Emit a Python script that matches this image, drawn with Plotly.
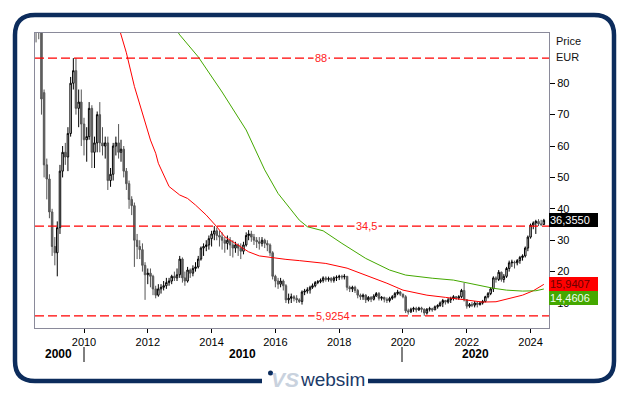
import pandas as pd
import plotly.graph_objects as go

# ---------------- data (monthly candles, Jul 2008 .. Jun 2024) ----------------
opens = [
    104, 100, 98, 77, 54, 49.5,
    39, 28, 26, 34, 52, 58, 56.5, 64, 80, 84, 72, 74,
    67, 62, 63, 72, 58, 61, 70, 61, 60, 61, 49, 51,
    60, 61, 58, 59, 52, 48, 43, 41, 30, 28, 27, 22,
    19, 19.5, 18.5, 14.5, 12.5, 14.5, 15, 15.5, 16.5, 17, 18.5, 18,
    19, 24, 18, 17, 20.5, 19.5, 21, 21.5, 24, 27.5, 28, 28.5,
    30.5, 32, 33, 31.5, 31, 30, 29, 30, 28.5, 27.5, 28.5, 27.5,
    26.5, 28.5, 31.5, 32, 31, 30, 29.5, 29, 30, 29, 28.5, 26,
    18.5, 17, 16, 17, 15.5, 11, 11.5, 12, 11.5, 11, 10.5, 13.5,
    13.8, 14.2, 15, 15.5, 16.5, 16.8, 17.2, 18, 17.5, 17.8, 17.2, 18,
    18.2, 18.5, 18.3, 18.5, 15, 14.5, 15, 14, 12.5, 12, 12.5, 11,
    11.8, 11.2, 12.2, 13, 11.5, 11.8, 11.2, 10.8, 11.5, 12, 13, 13.5,
    12.8, 12, 7.5, 7.2, 8, 8.3, 7.8, 8.4, 8, 6.8, 8, 8.2,
    7.8, 8.8, 9.2, 10, 10.8, 10.3, 11, 11.5, 12, 11.6, 12, 14,
    11, 9, 9.5, 9.3, 10, 9.5, 10, 10.5, 12, 13, 14.5, 18,
    17.5, 19.8, 17.5, 18.5, 21, 22.8, 23, 22.8, 23.5, 24.5, 25, 27.5,
    31, 34.8, 35.5, 36, 35.2, 35,
]
highs = [
    108, 103, 99, 78, 56, 51,
    40, 31, 36, 54, 60, 61, 66, 82, 88, 88, 78, 78,
    69, 66, 74, 73, 63, 71, 74, 66, 63, 63, 53, 61,
    63, 67, 62, 60, 53, 49, 44, 42, 32, 30, 29, 23,
    21, 21, 19, 15.5, 16, 16, 17, 18, 18, 19, 20, 21,
    25, 24.5, 20, 21.5, 21, 22, 23, 25, 28, 29, 30, 31.5,
    33, 34.5, 34, 33, 32.5, 31, 31.5, 31, 30, 29.5, 29, 29,
    29.5, 32.5, 33.2, 33, 32, 31, 31, 31, 30.5, 30, 29, 26.5,
    19, 18, 18, 17.5, 16, 13, 13, 12.5, 12.5, 11.5, 14, 14.5,
    15, 15.5, 16.2, 17, 17.3, 17.8, 18.5, 18.5, 18.4, 18.3, 18.5, 18.8,
    19, 19, 19.2, 18.5, 15.5, 15.5, 15.5, 14.5, 13, 13, 12.8, 12.2,
    12.2, 12.8, 13.5, 13.5, 12.2, 12, 11.8, 12, 12.5, 13.5, 14.2, 13.8,
    13, 12.5, 8.2, 8.5, 8.8, 8.8, 8.8, 8.8, 8.3, 8.4, 8.8, 8.5,
    9.2, 9.6, 10.5, 11.3, 11, 11.6, 12, 12.5, 12.2, 12.5, 14.5, 16.4,
    11.2, 10, 10.3, 10.6, 10.3, 10.5, 11, 12.3, 13.5, 15, 18.5, 18.5,
    20.5, 20, 19.2, 21.5, 23.5, 23.8, 23.5, 24, 25, 25.5, 28, 31.5,
    35.3, 36, 36.5, 36.7, 36.5, 36.8,
]
lows = [
    93, 94, 70, 50, 43, 37,
    25, 22, 18.5, 32, 50, 54, 52, 63, 78, 70, 66, 60,
    57, 55, 62, 53, 53, 58, 58, 57, 56, 46, 47, 49,
    57, 56, 55, 50, 46, 40, 38, 21.5, 24, 24, 20, 11,
    16, 15, 12.5, 11.5, 12, 13, 14, 14.5, 15.5, 16, 17, 17,
    18, 16.5, 15.5, 16.5, 18, 18.5, 20, 21, 23.5, 25, 26.5, 27,
    28, 30, 30, 28, 27, 26, 27, 25, 24.5, 26, 25, 24,
    25.5, 28, 30, 29.5, 28.5, 27.5, 27, 28, 27.5, 26.5, 25, 17.5,
    15, 14.5, 15, 14, 10, 9.8, 10, 10.5, 10, 10, 9.5, 12.5,
    13, 13, 14.5, 15, 16, 16.3, 16.5, 16.8, 16.8, 16.5, 16.5, 17,
    17.3, 17.5, 17.5, 14, 13.5, 13.5, 13.2, 11.5, 11, 11, 10, 10.5,
    10.3, 10.8, 12, 10.8, 10.8, 10.2, 10, 10.2, 11, 11.5, 12.5, 12.2,
    11.5, 6.8, 6.3, 6.8, 7.2, 7, 7.5, 7, 5.9254, 6.3, 7.3, 7.2,
    7.8, 8.2, 8.8, 8.7, 9.5, 9.8, 10, 10.8, 11, 11, 11.5, 10.5,
    8.2, 8.5, 8.7, 8.6, 8.6, 9.2, 9.5, 10.2, 11.5, 12.5, 13.5, 16.5,
    17, 16.8, 16.5, 18, 20, 21.5, 21, 22, 22.5, 23.5, 24.5, 26.5,
    30.5, 33.5, 32, 34.5, 34.5, 35,
]
closes = [
    100, 98, 75, 54, 49.5, 39,
    28, 26, 34, 52, 58, 56.5, 64, 80, 84, 72, 74, 67,
    62, 63, 72, 58, 61, 70, 61, 60, 61, 49, 51, 60,
    61, 58, 59, 52, 48, 43, 41, 30, 28, 27, 22, 19,
    19.5, 18.5, 14.5, 12.5, 14.5, 15, 15.5, 16.5, 17, 18.5, 18, 19,
    24, 18, 17, 20.5, 19.5, 21, 21.5, 24, 27.5, 28, 28.5, 30.5,
    32, 33, 31.5, 31, 30, 29, 30, 28.5, 27.5, 28.5, 27.5, 26.5,
    28.5, 31.5, 32, 31, 30, 29.5, 29, 30, 29, 28.5, 26, 18.5,
    17, 16, 17, 15.5, 11, 11.5, 12, 11.5, 11, 10.5, 13.5, 13.8,
    14.2, 15, 15.5, 16.5, 16.8, 17.2, 18, 17.5, 17.8, 17.2, 18, 18.2,
    18.5, 18.3, 18.5, 15, 14.5, 15, 14, 12.5, 12, 12.5, 11, 11.8,
    11.2, 12.2, 13, 11.5, 11.8, 11.2, 10.8, 11.5, 12, 13, 13.5, 12.8,
    12, 7.5, 7.2, 8, 8.3, 7.8, 8.4, 8, 6.8, 8, 8.2, 7.8,
    8.8, 9.2, 10, 10.8, 10.3, 11, 11.5, 12, 11.6, 12, 14, 11,
    9, 9.5, 9.3, 10, 9.5, 10, 10.5, 12, 13, 14.5, 18, 17.5,
    19.8, 17.5, 18.5, 21, 22.8, 23, 22.8, 23.5, 24.5, 25, 27.5, 31,
    34.8, 35.5, 36, 35.2, 35, 36.355,
]
dates = pd.date_range("2008-07-01", periods=len(closes), freq="MS")

red_dates = ["2011-01", "2011-03", "2011-05", "2011-08", "2011-11", "2012-02", "2012-04",
             "2012-05", "2012-09", "2013-01", "2013-04", "2013-07", "2013-11", "2014-03",
             "2014-06", "2014-11", "2015-03", "2015-07", "2015-12", "2016-05", "2016-10",
             "2017-08", "2018-04", "2018-11", "2019-07", "2020-01", "2020-10", "2021-05",
             "2022-02", "2022-07", "2022-12", "2023-05", "2023-10", "2024-02", "2024-04",
             "2024-06"]
red_vals = [101, 95.4, 89.7, 79.0, 70.5, 61.9, 57.7,
            54.5, 47.1, 44.4, 43.3, 41.2, 38.0, 34.3,
            31.1, 28.5, 26.3, 25.0, 24.4, 23.9, 23.5,
            22.6, 21.1, 18.9, 16.3, 14.1, 12.5, 11.8,
            10.7, 10.3, 10.4, 11.5, 12.5, 13.9, 15.0,
            15.9407]

green_dates = ["2012-11", "2013-01", "2013-08", "2014-05", "2015-02", "2015-09", "2016-02",
               "2016-07", "2016-10", "2017-01", "2017-07", "2018-02", "2018-11", "2019-08",
               "2020-02", "2020-12", "2021-08", "2022-03", "2022-11", "2023-04", "2023-10",
               "2024-03", "2024-06"]
green_vals = [98, 95.4, 88.4, 77.2, 65.1, 52.4, 44.9,
              39.6, 36.4, 34.3, 33.0, 29.0, 24.2, 20.5,
              18.9, 17.9, 17.3, 16.1, 14.7, 14.1, 13.8,
              13.9, 14.4606]

levels = [88, 34.5, 5.9254]
level_labels = ["88", "34,5", "5,9254"]
y_ticks = [10, 20, 30, 40, 50, 60, 70, 80]
decades = ["2000", "2010", "2020"]

# ---------------- layout helpers (pixel -> paper) ----------------
W, H = 629, 395
L, R, T, B = 35, 549, 33, 328
PW, PH = R - L, B - T


def px(x):
    return (x - L) / PW


def py(y):
    return (B - y) / PH


FONT = "Liberation Sans, Arial, sans-serif"
NAVY = "#0c2c5c"
RED = "#ff0000"
GREEN = "#44a800"

fig = go.Figure()

fig.add_trace(go.Candlestick(
    x=dates, open=opens, high=highs, low=lows, close=closes,
    increasing=dict(line=dict(color="#000000", width=1), fillcolor="#ffffff"),
    decreasing=dict(line=dict(color="#555555", width=1), fillcolor="#666666"),
    whiskerwidth=0, showlegend=False, hoverinfo="skip",
))
fig.add_trace(go.Scatter(x=red_dates, y=red_vals, mode="lines",
                         line=dict(color=RED, width=1), showlegend=False, hoverinfo="skip"))
fig.add_trace(go.Scatter(x=green_dates, y=green_vals, mode="lines",
                         line=dict(color=GREEN, width=1), showlegend=False, hoverinfo="skip"))

shapes = []
annotations = []

# horizontal level lines with labels
label_x = [321, 366, 333]
for lv, lab, lx in zip(levels, level_labels, label_x):
    shapes.append(dict(type="line", xref="paper", x0=0, x1=1, yref="y", y0=lv, y1=lv,
                       line=dict(color=RED, width=1.3, dash="9px,4px"), layer="above"))
    annotations.append(dict(x=px(lx), xref="paper", y=lv, yref="y", text=lab,
                            showarrow=False, font=dict(family=FONT, size=11, color="#ff2020"),
                            bgcolor="#ffffff", borderpad=1, xanchor="center", yanchor="middle"))

# right-side value boxes


def fmt(v):
    return f"{v:.4f}".replace(".", ",")


annotations.append(dict(x=1, xref="paper", y=closes[-1], yref="y", text=fmt(closes[-1]),
                        showarrow=False, xanchor="left", yanchor="middle", align="left",
                        font=dict(family=FONT, size=11, color="#ffffff"),
                        bgcolor="#000000", width=47, height=12, borderpad=1, borderwidth=0))
annotations.append(dict(x=1, xref="paper", y=red_vals[-1], yref="y", text=fmt(red_vals[-1]),
                        showarrow=False, xanchor="left", yanchor="middle", align="left",
                        font=dict(family=FONT, size=11, color="#6a0000"),
                        bgcolor=RED, width=47, height=12, borderpad=1, borderwidth=0))
annotations.append(dict(x=1, xref="paper", y=green_vals[-1], yref="y", text=fmt(green_vals[-1]),
                        showarrow=False, xanchor="left", yanchor="middle", align="left", yshift=-9,
                        font=dict(family=FONT, size=11, color="#f0fff0"),
                        bgcolor=GREEN, width=47, height=12, borderpad=1, borderwidth=0))

# axis title texts
annotations.append(dict(x=px(554), xref="paper", y=py(41), yref="paper", text="Price",
                        showarrow=False, xanchor="left", yanchor="middle",
                        font=dict(family=FONT, size=11, color="#111111")))
annotations.append(dict(x=px(554), xref="paper", y=py(57), yref="paper", text="EUR",
                        showarrow=False, xanchor="left", yanchor="middle",
                        font=dict(family=FONT, size=11, color="#111111")))

# decade row
for txt, cx in zip(decades, [58, 242, 475]):
    annotations.append(dict(x=px(cx), xref="paper", y=py(354), yref="paper",
                            text=f"<b>{txt}</b>", showarrow=False, xanchor="center",
                            yanchor="middle", font=dict(family=FONT, size=12, color="#000000")))
for sx in [84, 402]:
    shapes.append(dict(type="line", xref="paper", yref="paper", x0=px(sx), x1=px(sx),
                       y0=py(347), y1=py(362), line=dict(color="#000000", width=1)))

# rounded frame with gap for logo
r = 20
fl, fr, ft, fb = 15, 614, 15, 381


def P(x, y):
    return f"{px(x):.5f},{py(y):.5f}"


path = (f"M {P(262, fb)} L {P(fl + r, fb)} Q {P(fl, fb)} {P(fl, fb - r)} "
        f"L {P(fl, ft + r)} Q {P(fl, ft)} {P(fl + r, ft)} "
        f"L {P(fr - r, ft)} Q {P(fr, ft)} {P(fr, ft + r)} "
        f"L {P(fr, fb - r)} Q {P(fr, fb)} {P(fr - r, fb)} L {P(368, fb)}")
shapes.append(dict(type="path", xref="paper", yref="paper", path=path,
                   line=dict(color=NAVY, width=4.5)))

# logo
shapes.append(dict(type="circle", xref="paper", yref="paper",
                   x0=px(268), x1=px(273), y0=py(370.5), y1=py(375.5),
                   fillcolor=NAVY, line=dict(width=0)))
annotations.append(dict(x=px(285), xref="paper", y=py(380), yref="paper",
                        text="<b><i>VS</i></b>", showarrow=False, xanchor="center",
                        yanchor="middle", font=dict(family=FONT, size=21, color="#c9d2de")))
annotations.append(dict(x=px(332), xref="paper", y=py(380), yref="paper",
                        text="websim", showarrow=False, xanchor="center",
                        yanchor="middle", font=dict(family=FONT, size=19, color="#1b3a68")))

fig.update_layout(
    width=W, height=H,
    margin=dict(l=L, r=W - R, t=T, b=H - B, pad=0),
    paper_bgcolor="#ffffff", plot_bgcolor="#ffffff",
    shapes=shapes, annotations=annotations,
    showlegend=False, hovermode=False, boxgap=0.12,
    font=dict(family=FONT, size=11, color="#000000"),
    xaxis=dict(
        type="date", range=["2008-06-19", "2024-07-30"],
        rangeslider=dict(visible=False),
        showgrid=False, zeroline=False,
        showline=True, linecolor="#8a8a9a", linewidth=1, mirror=True,
        ticks="outside", ticklen=4, tickcolor="#000000",
        tick0="2010-01-01", dtick="M24", tickformat="%Y",
        tickfont=dict(family=FONT, size=11, color="#000000"),
    ),
    yaxis=dict(
        side="right", range=[2.04, 96.0],
        showgrid=False, zeroline=False,
        showline=True, linecolor="#8a8a9a", linewidth=1, mirror=True,
        ticks="outside", ticklen=5, tickcolor="#000000",
        tickvals=y_ticks, ticktext=[str(v) for v in y_ticks],
        tickfont=dict(family=FONT, size=11, color="#000000"),
    ),
)

fig.write_html(
    "out.html",
    config={"displayModeBar": False, "staticPlot": True},
    post_script="document.body.style.margin='0';document.body.style.overflow='hidden';",
)
